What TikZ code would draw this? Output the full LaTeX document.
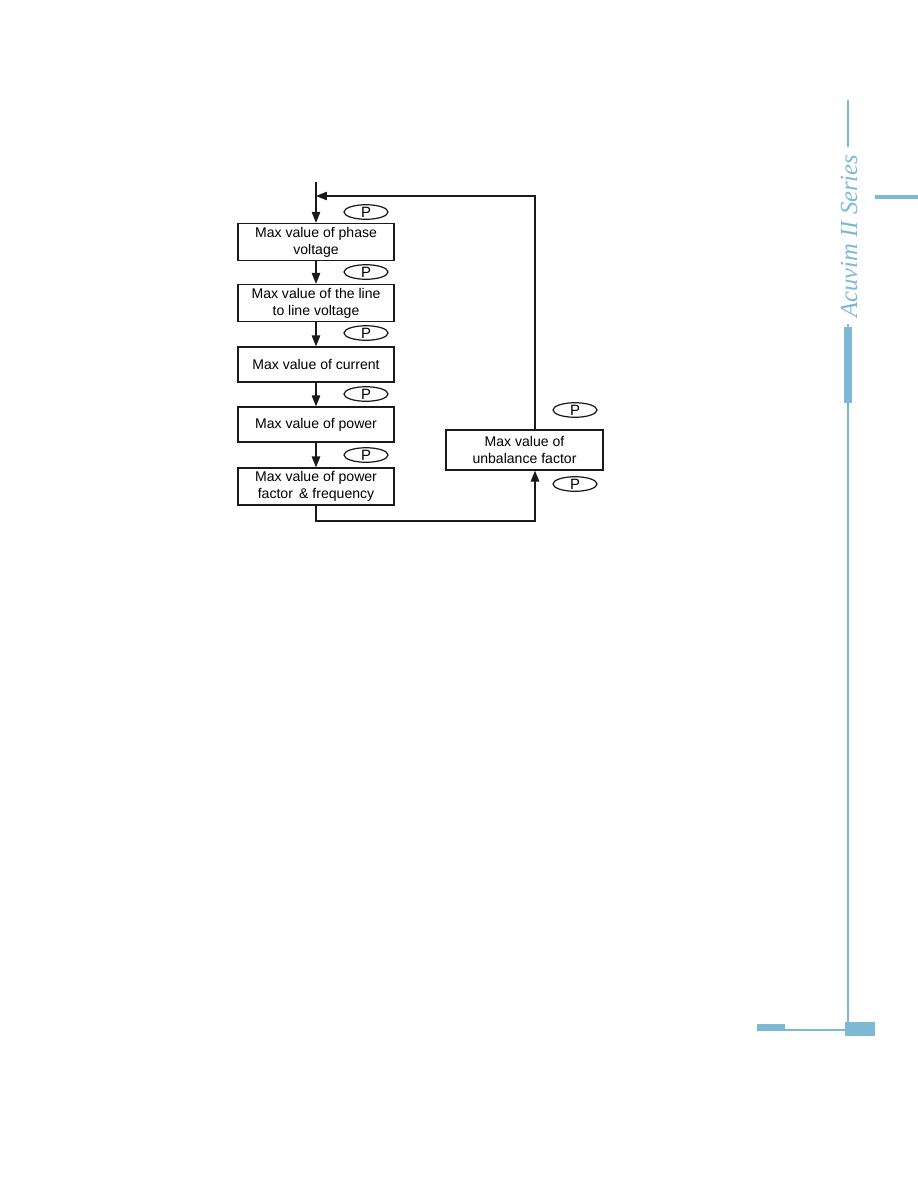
\documentclass[tikz,border=0pt]{standalone}
\usepackage{fontspec}
\setmainfont{Liberation Sans}
\newfontfamily\seriesfont{Liberation Serif}
\usetikzlibrary{arrows.meta, positioning, shapes.geometric, calc}
\definecolor{cblue}{HTML}{7DB9D5}
\definecolor{cline}{HTML}{1A1A1A}
\tikzset{
  every picture/.style={font=\fontsize{8}{9.6}\selectfont, line width=0.7pt},
  box/.style={draw=cline, fill=white, align=center, inner sep=2pt, minimum width=3.12cm, minimum height=0.68cm},
  arrow/.style={-{Triangle[length=2.2mm, width=1.7mm]}, draw=cline},
  key/.style={ellipse, draw=cline, minimum width=0.88cm, minimum height=0.28cm, inner sep=0pt, font=\fontsize{8.5}{9}\selectfont},
  trim/.style={draw=cblue, line width=0.9pt},
}
\begin{document}
\begin{tikzpicture}[x=0.02cm, y=-0.02cm]
  \useasboundingbox (0,0) rectangle (918,1188);

  % ---- page trim
  \draw[trim] (848,100) -- (848,147);
  \draw[trim] (848,324) -- (848,1030) -- (757,1030);
  \draw[trim, line width=4pt] (848,327) -- (848,403);
  \draw[trim, line width=2pt] (875,197) -- (918,197);
  \fill[cblue] (757,1024) rectangle (785,1031);
  \fill[cblue] (845,1022) rectangle (875,1036);
  \node[text=cblue, rotate=90, font=\seriesfont\itshape\fontsize{14}{14}\selectfont] (series) at (849,236) {Acuvim II Series};

  % ---- main column
  \coordinate (entry) at (316,182);
  \node[box] (phase) at (316,242) {Max value of phase\\voltage};
  \node[box] (line) at (316,303) {Max value of the line\\to line voltage};
  \node[box, minimum height=0.7cm] (current) at (316,364.5) {Max value of current};
  \node[box, minimum height=0.7cm] (power) at (316,424.5) {Max value of power};
  \node[box, minimum height=0.7cm] (pf) at (316,486.5) {Max value of power\\factor \,\& frequency};
  \draw[arrow] (entry) -- (phase.north);
  \draw[arrow] (phase.south) -- (line.north);
  \draw[arrow] (line.south) -- (current.north);
  \draw[arrow] (current.south) -- (power.north);
  \draw[arrow] (power.south) -- (pf.north);
  \foreach \y/\n in {212/k1, 272/k2, 333/k3, 394/k4, 455/k5}
    { \node[key] (\n) at (366,\y) {P}; }

  % ---- unbalance loop
  \node[box, minimum width=3.14cm, minimum height=0.8cm] (unbal) at (524.5,450) {Max value of\\unbalance factor};
  \coordinate (join) at (316,196);
  \coordinate (low) at (535,521);
  \draw[arrow] (unbal.north -| low) |- (join);
  \draw[arrow] (pf.south) |- (low) -- (unbal.south -| low);
  \node[key] (k6) at (575,410) {P};
  \node[key] (k7) at (575,484) {P};
\end{tikzpicture}
\end{document}
